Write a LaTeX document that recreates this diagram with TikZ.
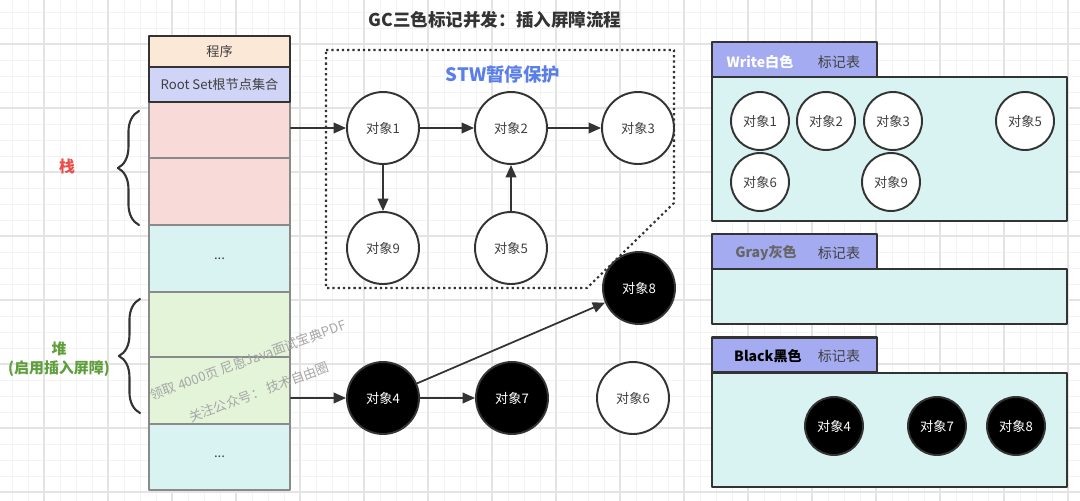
\documentclass[tikz,border=0pt]{standalone}
\usepackage{fontspec}
\setmainfont{Noto Sans CJK SC}
\usetikzlibrary{arrows.meta,decorations.pathreplacing}

\definecolor{gridminor}{HTML}{F3F3F3}
\definecolor{gridmajor}{HTML}{E4E4E4}
\definecolor{edgegray}{HTML}{333333}
\definecolor{cellborder}{HTML}{8A8A8A}
\definecolor{progfill}{HTML}{FCE8D6}
\definecolor{rootfill}{HTML}{D0D4F7}
\definecolor{stackfill}{HTML}{F8DAD8}
\definecolor{restfill}{HTML}{D9F3F3}
\definecolor{heapfill}{HTML}{E3F4D9}
\definecolor{tabfill}{HTML}{A4ABF0}
\definecolor{stwblue}{HTML}{5A7FE6}
\definecolor{stackred}{HTML}{EA4E4B}
\definecolor{heapgreen}{HTML}{5E9F3C}

\begin{document}
\begin{tikzpicture}[
  x=0.02cm, y=-0.02cm,
  line cap=round,
  line join=round,
  every node/.style={font=\fontsize{7.5}{9}\selectfont, text=black!75},
  obj/.style={circle, draw=edgegray, line width=1.1pt, fill=white,
    minimum size=1.44cm, inner sep=0pt},
  objblk/.style={obj, fill=black, text=white},
  mini/.style={minimum size=1.16cm},
  cell/.style={draw=cellborder, line width=0.9pt, minimum width=2.82cm, inner sep=0pt},
  headcell/.style={cell, draw=edgegray, line width=1.3pt},
  tab/.style={draw=edgegray, line width=1.3pt, fill=tabfill,
    minimum width=3.3cm, minimum height=0.7cm, inner sep=0pt},
  panel/.style={draw=edgegray, line width=1.3pt, fill=restfill,
    minimum width=7.1cm, inner sep=0pt},
  arr/.style={edgegray, line width=1pt, -{Triangle[length=7pt,width=6pt]}},
  brace/.style={edgegray, line width=1.2pt, decorate,
    decoration={brace, amplitude=12pt}},
  watermark/.style={text=black!35, rotate=20}
]
  \useasboundingbox (0,0) rectangle (1080,501);

  % 背景网格
  \foreach \gx in {12,28,...,1076}
    \draw[gridminor, line width=0.5pt] (\gx,0) -- (\gx,501);
  \foreach \gy in {12,28,...,492}
    \draw[gridminor, line width=0.5pt] (0,\gy) -- (1080,\gy);
  \foreach \gx in {44,108,...,1068}
    \draw[gridmajor, line width=0.6pt] (\gx,0) -- (\gx,501);
  \foreach \gy in {44,108,...,492}
    \draw[gridmajor, line width=0.6pt] (0,\gy) -- (1080,\gy);

  % 标题
  \node[font=\fontsize{10}{12}\selectfont\bfseries, text=black!80] (title) at (495,20)
    {GC三色标记并发：插入屏障流程};

  % 左侧内存结构
  \node[cell, fill=stackfill, minimum height=1.12cm] (s1) at (219.5,130) {};
  \node[cell, fill=stackfill, minimum height=1.34cm] (s2) at (219.5,191.5) {};
  \node[cell, fill=restfill,  minimum height=1.34cm] (r1) at (219.5,258.5) {...};
  \node[cell, fill=heapfill,  minimum height=1.30cm] (h1) at (219.5,324.5) {};
  \node[cell, fill=heapfill,  minimum height=1.34cm] (h2) at (219.5,390.5) {};
  \node[cell, fill=restfill,  minimum height=1.32cm] (r2) at (219.5,457) {...};
  \node[headcell, fill=progfill, minimum height=0.62cm] (prog) at (219.5,51.5) {程序};
  \node[headcell, fill=rootfill, minimum height=0.70cm] (root) at (219.5,84.5)
    {Root Set根节点集合};

  % 水印
  \node[watermark] (mark1) at (248,360) {领取 4000页 尼恩Java面试宝典PDF};
  \node[watermark] (mark2) at (259,392) {关注公众号： 技术自由圈};

  % 栈 / 堆 括号
  \draw[brace] (139,225) -- (139,111);
  \draw[brace] (140,413) -- (140,299);
  \node[font=\fontsize{9}{11}\selectfont\bfseries, text=stackred] (stacklbl) at (67,166) {栈};
  \node[font=\fontsize{8.5}{10.8}\selectfont\bfseries, text=heapgreen, align=center]
    (heaplbl) at (59,359) {堆\\(启用插入屏障)};

  % STW 保护区域
  \draw[edgegray, line width=1.2pt, line cap=butt, dash pattern=on 1.3pt off 1.7pt]
    (326,50) -- (674,50) -- (674,203) -- (587,288) -- (326,288) -- cycle;
  \node[font=\fontsize{10.5}{12}\selectfont\bfseries, text=stwblue] (stw) at (503,74)
    {STW暂停保护};

  % 对象
  \node[obj] (o1) at (383,128) {对象1};
  \node[obj] (o2) at (511,128) {对象2};
  \node[obj] (o3) at (638,128) {对象3};
  \node[obj] (o9) at (383,248) {对象9};
  \node[obj] (o5) at (511,248) {对象5};
  \node[objblk] (o8) at (639,288) {对象8};
  \node[objblk] (o4) at (383,398) {对象4};
  \node[objblk] (o7) at (512,398) {对象7};
  \node[obj] (o6) at (633,398) {对象6};

  % 引用关系
  \draw[arr] (s1.east |- o1) -- (o1);
  \draw[arr] (o1) -- (o2);
  \draw[arr] (o2) -- (o3);
  \draw[arr] (o1) -- (o9);
  \draw[arr] (o5) -- (o2);
  \draw[arr] (h2.east |- o4) -- (o4);
  \draw[arr] (o4) -- (o7);
  \draw[arr] (o4) -- (o8);

  % 白色标记表
  \node[panel, minimum height=2.88cm] (wbody) at (889.5,149) {};
  \node[tab] (wtab) at (794.5,59.5) {};
  \node[font=\fontsize{8}{10}\selectfont\bfseries, text=white] (wname) at (760,62) {Write白色};
  \node[font=\fontsize{8}{10}\selectfont] (wtbl) at (839,62) {标记表};
  \node[obj, mini] (w1) at (760,121) {对象1};
  \node[obj, mini] (w2) at (826,121) {对象2};
  \node[obj, mini] (w3) at (893,121) {对象3};
  \node[obj, mini] (w5) at (1025,121) {对象5};
  \node[obj, mini] (w6) at (760,182) {对象6};
  \node[obj, mini] (w9) at (891,182) {对象9};

  % 灰色标记表
  \node[panel, minimum height=1.1cm] (gbody) at (889.5,296.5) {};
  \node[tab] (gtab) at (794.5,251.5) {};
  \node[font=\fontsize{8}{10}\selectfont\bfseries, text=black!60] (gname) at (766,253) {Gray灰色};
  \node[font=\fontsize{8}{10}\selectfont] (gtbl) at (839,253) {标记表};

  % 黑色标记表
  \node[panel, minimum height=2.28cm] (bbody) at (889.5,430) {};
  \node[tab] (btab) at (794.5,355) {};
  \node[font=\fontsize{8}{10}\selectfont\bfseries, text=black] (bname) at (768,356) {Black黑色};
  \node[font=\fontsize{8}{10}\selectfont] (btbl) at (839,356) {标记表};
  \node[objblk, mini] (b4) at (834,426) {对象4};
  \node[objblk, mini] (b7) at (937,426) {对象7};
  \node[objblk, mini] (b8) at (1016,426) {对象8};
\end{tikzpicture}
\end{document}
